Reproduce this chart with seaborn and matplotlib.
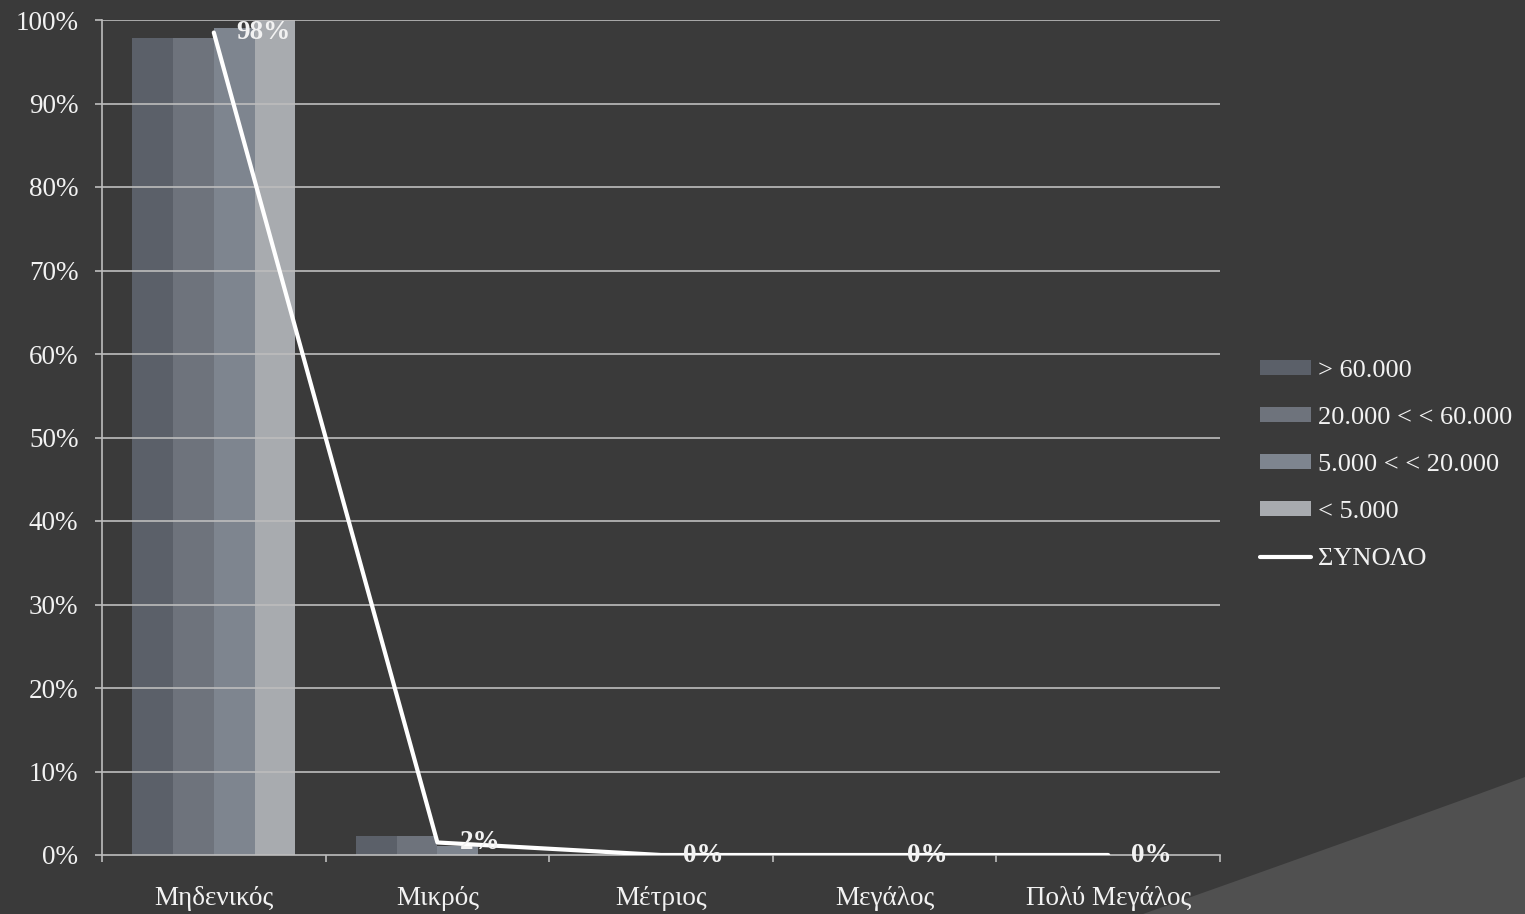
import numpy as np
import pandas as pd
import matplotlib
matplotlib.use("Agg")
import matplotlib.pyplot as plt
from matplotlib.path import Path
from matplotlib.patches import PathPatch
from matplotlib.lines import Line2D
import seaborn as sns

categories = ["Μηδενικός", "Μικρός", "Μέτριος", "Μεγάλος", "Πολύ Μεγάλος"]
series_names = ["> 60.000", "20.000 < < 60.000", "5.000 < < 20.000", "< 5.000"]
s_gt60 = [97.8, 2.3, 0.0, 0.0, 0.0]
s_20_60 = [97.8, 2.3, 0.0, 0.0, 0.0]
s_5_20 = [99.0, 1.1, 0.0, 0.0, 0.0]
s_lt5 = [100.0, 0.0, 0.0, 0.0, 0.0]
total_name = "ΣΥΝΟΛΟ"
total = [98.5, 1.5, 0.0, 0.0, 0.0]
total_labels = ["98%", "2%", "0%", "0%", "0%"]
yticks = [0, 10, 20, 30, 40, 50, 60, 70, 80, 90, 100]

colors = ["#5b6069", "#6e737c", "#7e858f", "#a8abaf"]
bg = "#3a3a3a"
grid_c = "#bdbdbd"
txt_c = "#f2f2f2"
FS = 19.5

sns.set_style("dark")
plt.rcParams["font.family"] = ["Liberation Serif", "DejaVu Serif"]

rows = []
for name, vals in zip(series_names, [s_gt60, s_20_60, s_5_20, s_lt5]):
    for c, v in zip(categories, vals):
        rows.append({"cat": c, "series": name, "val": v})
df = pd.DataFrame(rows)

fig = plt.figure(figsize=(15.25, 9.14), dpi=100, facecolor=bg)
# decorative curve bottom right (background)
verts = [(1143 / 1525, 0.0), (1270 / 1525, 45 / 914), (1400 / 1525, 91 / 914), (1.0, 137 / 914),
         (1.0, 0.0), (1143 / 1525, 0.0)]
codes = [Path.MOVETO, Path.CURVE4, Path.CURVE4, Path.CURVE4, Path.LINETO, Path.CLOSEPOLY]
fig.patches.append(PathPatch(Path(verts, codes), transform=fig.transFigure,
                             facecolor="#505050", edgecolor="none", zorder=-5))

ax = fig.add_axes([102 / 1525, 1 - 855 / 914, (1220 - 102) / 1525, (855 - 20) / 914])
ax.set_facecolor("none")
ax.set_zorder(2)

sns.barplot(data=df, x="cat", y="val", hue="series", palette=colors, width=0.73,
            dodge=True, ax=ax, saturation=1, edgecolor="none", linewidth=0, legend=False)

xpos = np.arange(len(categories))
sns.lineplot(x=xpos, y=total, ax=ax, color="white", linewidth=3, zorder=5, legend=False)
for x, y, lab in zip(xpos, total, total_labels):
    ax.text(x + 0.1, y, lab, color=txt_c, fontsize=FS, fontweight="bold",
            ha="left", va="center", zorder=6)

ax.set_xlim(-0.5, len(categories) - 0.5)
ax.set_ylim(0, 100)
ax.set_yticks(yticks)
ax.set_yticklabels([f"{t}%" for t in yticks])
ax.set_xticks(xpos)
ax.set_xticklabels(categories)
ax.set_xlabel("")
ax.set_ylabel("")
ax.grid(False)
for t in yticks[1:]:
    ax.axhline(t, color=grid_c, linewidth=1.2, zorder=1)
for s in ["top", "right"]:
    ax.spines[s].set_visible(False)
ax.spines["left"].set_color(grid_c)
ax.spines["left"].set_linewidth(1.2)
ax.spines["bottom"].set_color(grid_c)
ax.spines["bottom"].set_linewidth(1.2)
ax.tick_params(axis="y", length=5, width=1.2, color=grid_c, labelcolor=txt_c,
               labelsize=FS, pad=12, left=True)
ax.tick_params(axis="x", length=0, labelcolor=txt_c, labelsize=FS, pad=22, bottom=True)
ax.set_xticks(np.arange(len(categories) + 1) - 0.5, minor=True)
ax.tick_params(axis="x", which="minor", length=5, width=1.2, color=grid_c, bottom=True)

handles = [plt.Rectangle((0, 0), 1, 1, facecolor=c, edgecolor="none") for c in colors]
handles.append(Line2D([0], [0], color="white", linewidth=3))
leg = fig.legend(handles, series_names + [total_name], loc="center left",
                 bbox_to_anchor=(1260 / 1525, 1 - 465 / 914), frameon=False,
                 fontsize=19, labelcolor=txt_c, handlelength=1.95, handleheight=0.5,
                 handletextpad=0.25, labelspacing=0.95, borderpad=0, borderaxespad=0)

fig.savefig("out.png", dpi=100, facecolor=bg)
